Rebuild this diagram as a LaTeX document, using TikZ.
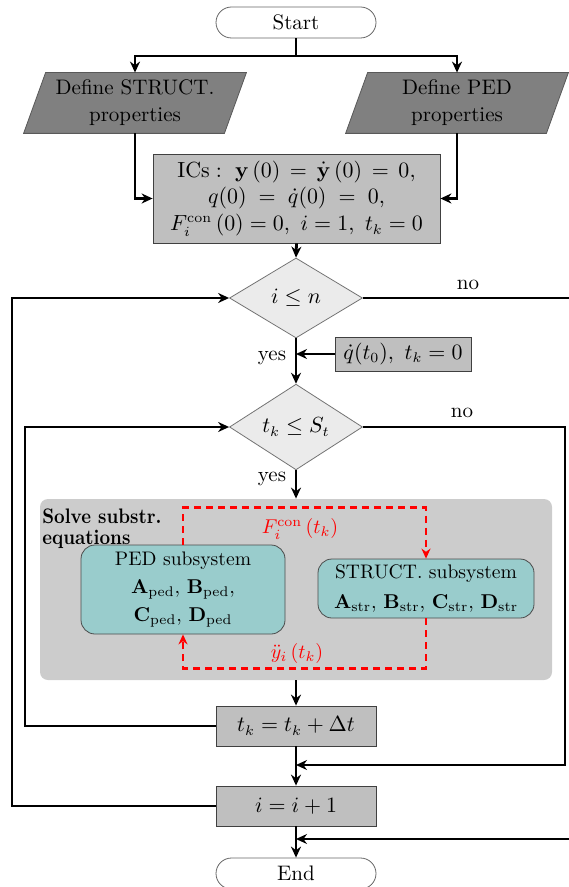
\documentclass[tikz,border=0pt]{standalone}
\usetikzlibrary{arrows.meta,shapes.geometric,backgrounds}
\begin{document}
\begin{tikzpicture}[x=0.5pt,y=-0.5pt,
  font=\fontsize{10.5}{12.6}\selectfont,
  flow/.style={line width=1.4pt,-{Stealth[length=5.5pt,width=5pt]}},
  loopline/.style={line width=0.8pt,-{Stealth[length=5.5pt,width=5pt]}},
  reddash/.style={red,line width=1.4pt,dash pattern=on 3.5pt off 2.5pt,-{Stealth[length=5pt,width=4.5pt]}},
  term/.style={draw=black!60,fill=white,rounded corners=7.75pt,minimum width=80pt,minimum height=15.5pt,inner sep=0pt},
  proc/.style={draw=black!75,fill=black!25,inner sep=1pt,align=center},
  dec/.style={diamond,draw=black!55,fill=black!8,inner sep=0pt},
  para/.style={minimum width=100pt,minimum height=30pt,inner sep=0pt,align=center},
  parafill/.style={fill=black!50,draw=black!65},
  panel/.style={fill=black!20,rounded corners=4pt,minimum width=256pt,minimum height=90.5pt,inner sep=0pt},
  sub/.style={draw=black!70,fill=teal!40,rounded corners=7pt,inner sep=1pt,align=center,
              font=\fontsize{9.8}{11.7}\selectfont},
  lbl/.style={inner sep=0pt}]
\useasboundingbox (0,0) rectangle (568,887);

% terminals
\node[term] (start) at (296,22.5) {Start};
\coordinate (split) at (296,56);

% input parallelograms
\node[para] (defS) at (135,103) {Define STRUCT.\\[1pt]properties};
\node[para] (defP) at (457,103) {Define PED\\[1pt]properties};
\begin{scope}[on background layer]
  \path[parafill] ([xshift=-5.5pt]defS.south west) -- ([xshift=5.5pt]defS.north west)
     -- ([xshift=5.5pt]defS.north east) -- ([xshift=-5.5pt]defS.south east) -- cycle;
  \path[parafill] ([xshift=-5.5pt]defP.south west) -- ([xshift=5.5pt]defP.north west)
     -- ([xshift=5.5pt]defP.north east) -- ([xshift=-5.5pt]defP.south east) -- cycle;
\end{scope}

% initial conditions
\node[proc,minimum width=143.5pt,minimum height=44.5pt] (ics) at (296.5,198.5)
  {$\mathrm{ICs}:\ \mathbf{y}\left(0\right)\,=\,\dot{\mathbf{y}}\left(0\right)\,=\,0,$\\[0.8pt]
   $q(0)\;=\;\dot q(0)\;=\;0,$\\[0.8pt]
   $F_i^{\mathrm{con}}\left(0\right)=0,\ i=1,\ t_k=0$};

% decisions
\node[dec,minimum width=66.5pt,minimum height=40pt] (d1) at (296,298) {$i\leq n$};
\node[proc,minimum width=68pt,minimum height=17pt] (qb) at (403,354) {$\dot q(t_0),\ t_k=0$};
\node[dec,minimum width=66.5pt,minimum height=41pt] (d2) at (296,427) {$t_k\leq S_t$};

% panel
\node[panel] (panel) at (296,589.5) {};
\node[lbl,anchor=north west,align=left,xscale=0.88,transform shape,
      font=\fontsize{10.5}{10.5}\selectfont\bfseries] (solve) at (42,508)
  {Solve substr.\\equations};
\node[sub,minimum width=102pt,minimum height=44.5pt] (ped) at (183,589.5)
  {PED subsystem\\[2.5pt]
   $\mathbf{A}_{\mathrm{ped}},\,\mathbf{B}_{\mathrm{ped}},$\\[2.5pt]
   $\mathbf{C}_{\mathrm{ped}},\,\mathbf{D}_{\mathrm{ped}}$};
\node[sub,minimum width=108pt,minimum height=29.5pt] (str) at (426,588.5)
  {STRUCT. subsystem\\[3.5pt]
   $\mathbf{A}_{\mathrm{str}},\,\mathbf{B}_{\mathrm{str}},\,\mathbf{C}_{\mathrm{str}},\,\mathbf{D}_{\mathrm{str}}$};
\draw[reddash] (ped.north) -- ++(0,-37) -| (str.north);
\draw[reddash] (str.south) -- ++(0,50) -| (ped.south);
\node[lbl,red,font=\fontsize{10}{12}\selectfont] (flab) at (300,529) {$F_i^{\mathrm{con}}\left(t_k\right)$};
\node[lbl,red,font=\fontsize{10}{12}\selectfont] (ylab) at (297,653) {$\ddot y_i\left(t_k\right)$};

% update boxes
\node[proc,minimum width=80pt,minimum height=20pt] (tk) at (296,726) {$t_k=t_k+\Delta t$};
\node[proc,minimum width=80pt,minimum height=20pt] (ib) at (296,806) {$i=i+1$};
\node[term] (end) at (296,873.5) {End};

% coordinates for loops and joins
\coordinate (L1) at (12,0);
\coordinate (L2) at (25,0);
\coordinate (R1) at (576,0);
\coordinate (R2) at (565,0);
\coordinate (j1) at (296,354);
\coordinate (j2) at (296,765);
\coordinate (j3) at (296,839);

% main flow
\draw[line width=1.4pt] (start.south) -- (split);
\draw[flow] (split) -| (defS.north);
\draw[flow] (split) -| (defP.north);
\draw[flow] (defS.south) |- (ics.west);
\draw[flow] (defP.south) |- (ics.east);
\draw[flow] (ics.south) -- (d1.north);
\draw[flow] (d1.south) -- (d2.north);
\draw[flow,line width=1pt] (qb.west) -- (j1);
\draw[flow] (d2.south) -- (panel.north);
\draw[flow] (panel.south) -- (tk.north);
\draw[flow] (tk.south) -- (ib.north);
\draw[flow] (ib.south) -- (end.north);

% loops
\draw[loopline] (tk.west) -- (tk.west -| L2) |- (d2.west);
\draw[loopline] (ib.west) -- (ib.west -| L1) |- (d1.west);
\draw[loopline] (d2.east) -- (d2.east -| R2) |- (j2);
\draw[loopline] (d1.east) -- (d1.east -| R1) |- (j3);

% labels
\node[lbl] (no1) at (468,285) {no};
\node[lbl] (no2) at (462,413) {no};
\node[lbl] (yes1) at (272,358) {yes};
\node[lbl] (yes2) at (272,479) {yes};
\end{tikzpicture}
\end{document}
